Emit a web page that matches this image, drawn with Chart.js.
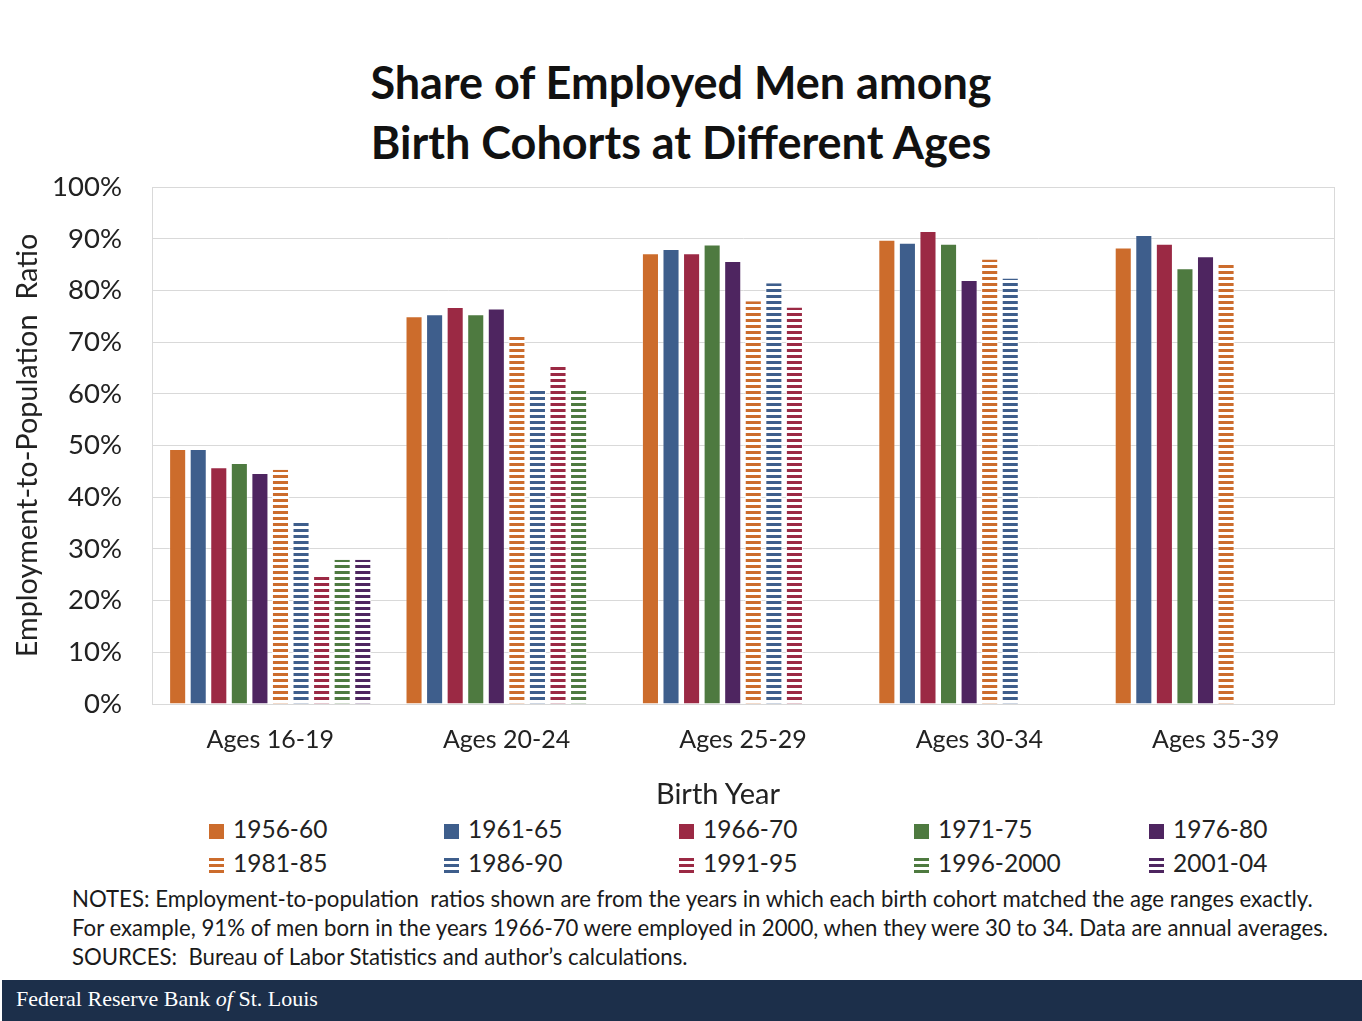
<!DOCTYPE html>
<html>
<head>
<meta charset="utf-8">
<script src="https://cdn.jsdelivr.net/npm/chart.js@4.4.1/dist/chart.umd.min.js"></script>
<style>
  html, body { margin: 0; padding: 0; background: #fff; }
  body { width: 1362px; height: 1021px; position: relative; overflow: hidden; font-family: Lato, "Open Sans", sans-serif; color: #1a1a1a; }
  #title { position: absolute; left: 0; width: 1362px; top: 52px; text-align: center; font-weight: bold; font-size: 45px; line-height: 60px; color: #111; }
  #wrap { position: absolute; left: 0; top: 0; width: 1362px; height: 780px; }
  #legendTitle { position: absolute; left: 0; width: 1436px; top: 775px; text-align: center; font-size: 29px; color: #222; }
  .leg { position: absolute; font-size: 24.5px; color: #222; height: 30px; line-height: 30px; white-space: nowrap; }
  .leg .box { display: inline-block; width: 15px; height: 15px; margin-right: 9px; vertical-align: -1px; }
  #notes { position: absolute; left: 72px; top: 884px; font-size: 22.2px; line-height: 29px; color: #1a1a1a; white-space: nowrap; }
  #footer { position: absolute; left: 2px; top: 980px; width: 1360px; height: 41px; background: #1c2f4a; }
  #footer span { position: absolute; left: 14px; top: 6px; color: #fff; font-family: "Liberation Serif", "DejaVu Serif", serif; font-size: 22px; }
</style>
</head>
<body>
<div id="title">Share of Employed Men among<br>Birth Cohorts at Different Ages</div>
<div id="wrap"><canvas id="c" width="1362" height="780"></canvas></div>
<div id="legendTitle">Birth Year</div>
<div id="legend"></div>
<div id="notes">NOTES: Employment-to-population&nbsp; ratios shown are from the years in which each birth cohort matched the age ranges exactly.<br>For example, 91% of men born in the years 1966-70 were employed in 2000, when they were 30 to 34. Data are annual averages.<br>SOURCES:&nbsp; Bureau of Labor Statistics and author’s calculations.</div>
<div id="footer"><span>Federal Reserve Bank <i>of</i> St. Louis</span></div>
<script>
// ---- data ----
const categories = ["Ages 16-19", "Ages 20-24", "Ages 25-29", "Ages 30-34", "Ages 35-39"];
const cohorts = ["1956-60", "1961-65", "1966-70", "1971-75", "1976-80", "1981-85", "1986-90", "1991-95", "1996-2000", "2001-04"];
const c1956_60   = [49.3, 75.0, 87.2, 89.8, 88.3];
const c1961_65   = [49.3, 75.4, 88.0, 89.2, 90.7];
const c1966_70   = [45.8, 76.8, 87.2, 91.5, 89.0];
const c1971_75   = [46.6, 75.4, 88.9, 89.0, 84.3];
const c1976_80   = [44.7, 76.5, 85.7, 82.0, 86.6];
const c1981_85   = [45.3, 71.0, 77.9, 86.0, 84.9];
const c1986_90   = [35.1, 60.6, 81.4, 82.3, null];
const c1991_95   = [24.8, 65.2, 76.7, null, null];
const c1996_2000 = [27.9, 60.6, null, null, null];
const c2001_04   = [27.9, null, null, null, null];
const seriesValues = [c1956_60, c1961_65, c1966_70, c1971_75, c1976_80, c1981_85, c1986_90, c1991_95, c1996_2000, c2001_04];
const yTicks = [0, 10, 20, 30, 40, 50, 60, 70, 80, 90, 100];

// ---- styles ----
const baseColors = ["#cc6c2c", "#3e5e8c", "#9b2944", "#4e7a40", "#4e2560"];
const seriesColors = baseColors.concat(baseColors);
const striped = cohorts.map((_, i) => i >= 5);

function stripePattern(color) {
  const pc = document.createElement('canvas');
  pc.width = 8; pc.height = 6;
  const g = pc.getContext('2d');
  g.fillStyle = '#ffffff';
  g.fillRect(0, 0, 8, 6);
  g.fillStyle = color;
  g.fillRect(0, 1, 8, 3);
  return pc;
}
const ctx = document.getElementById('c').getContext('2d');
const fills = seriesColors.map((col, i) => striped[i] ? ctx.createPattern(stripePattern(col), 'repeat') : col);

const datasets = cohorts.map((name, i) => ({
  label: name,
  data: seriesValues[i],
  backgroundColor: fills[i],
  borderColor: striped[i] ? '#ffffff' : 'rgba(255,255,255,0.35)',
  borderWidth: striped[i] ? {left: 1, right: 1, top: 0, bottom: 0} : 1,
  borderSkipped: 'bottom'
}));

const FONT = "Lato, 'Open Sans', sans-serif";
new Chart(ctx, {
  type: 'bar',
  data: { labels: categories, datasets },
  options: {
    responsive: false,
    animation: false,
    categoryPercentage: 0.87,
    barPercentage: 0.83,
    layout: { padding: { top: 187, right: 28, bottom: 0, left: 0 } },
    plugins: { legend: { display: false }, tooltip: { enabled: false } },
    scales: {
      x: {
        grid: { display: false, drawTicks: false },
        border: { display: true, color: '#d9d9d9', width: 1 },
        ticks: { color: '#222', font: { family: FONT, size: 25 }, padding: 21 },
        afterFit: s => { s.height = 76; }
      },
      y: {
        min: 0, max: 100,
        afterBuildTicks: s => { s.ticks = yTicks.map(v => ({ value: v })); },
        grid: { color: '#d9d9d9', lineWidth: 1, drawTicks: false },
        border: { display: true, color: '#d9d9d9' },
        ticks: { color: '#222', font: { family: FONT, size: 27.5 }, padding: 30, callback: v => v + '%' },
        title: { display: true, text: 'Employment-to-Population  Ratio', color: '#222', font: { family: FONT, size: 28.8 }, padding: { top: 10, bottom: 8 } },
        afterFit: s => { s.width = 152; }
      }
    }
  },
  plugins: [{
    id: 'frame',
    afterDraw(chart) {
      const a = chart.chartArea, g = chart.ctx;
      g.save();
      g.strokeStyle = '#d9d9d9'; g.lineWidth = 1;
      g.strokeRect(Math.round(a.left) + 0.5, Math.round(a.top) + 0.5, Math.round(a.right - a.left), Math.round(a.bottom - a.top));
      g.restore();
    }
  }]
});

// ---- legend (HTML) ----
const legend = document.getElementById('legend');
const colX = [209, 444, 679, 914, 1149];
const rowY = [814, 848];
cohorts.forEach((name, i) => {
  const d = document.createElement('div');
  d.className = 'leg';
  d.style.left = colX[i % 5] + 'px';
  d.style.top = rowY[Math.floor(i / 5)] + 'px';
  const b = document.createElement('span');
  b.className = 'box';
  const col = seriesColors[i];
  b.style.background = striped[i]
    ? `repeating-linear-gradient(to bottom, ${col} 0px, ${col} 3px, #fff 3px, #fff 6px)`
    : col;
  d.appendChild(b);
  d.appendChild(document.createTextNode(name));
  legend.appendChild(d);
});
</script>
</body>
</html>
